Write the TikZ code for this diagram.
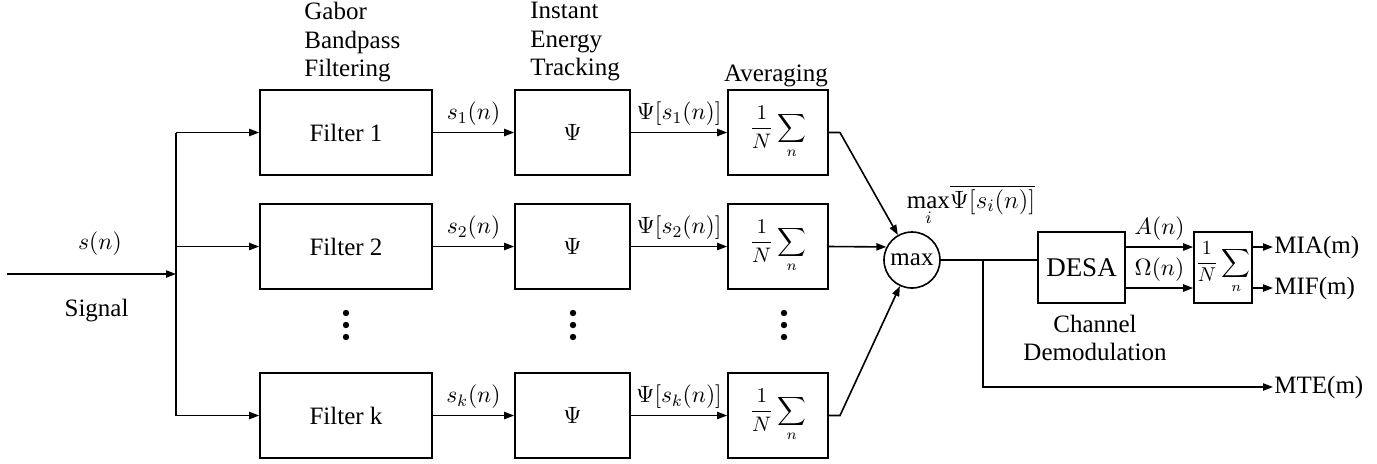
\RequirePackage{fix-cm}
\documentclass[tikz,border=0pt]{standalone}
\usepackage{fontspec}
\setmainfont{Liberation Serif}
\usetikzlibrary{arrows.meta,calc}
\begin{document}
\begin{tikzpicture}[x=0.5pt,y=-0.5pt,
  mfont/.style={font=\rmfamily\fontsize{11.8}{14}\selectfont},
  tfont/.style={font=\rmfamily\fontsize{12.5}{14.3}\selectfont},
  ln/.style={line width=0.8pt},
  blk/.style={draw,ln,inner sep=0pt,minimum height=42.5pt},
  filt/.style={blk,tfont,minimum width=86pt},
  psi/.style={blk,mfont,minimum width=57.5pt},
  avg/.style={blk,font=\rmfamily\fontsize{10.5}{12}\selectfont,minimum width=50pt},
  arr/.style={ln,-{Triangle[length=5pt,width=3.6pt]}},
  lab/.style={mfont,inner sep=1pt},
  txt/.style={tfont,inner sep=0pt}
]
\useasboundingbox (0,0) rectangle (1377,463);

% top labels
\node[txt,align=left,anchor=north west] (tg) at (304,2) {Gabor\\Bandpass\\Filtering};
\node[txt,align=left,anchor=north west] (ti) at (530,2) {Instant\\Energy\\Tracking};
\node[txt,anchor=base] (ta) at (776,81) {Averaging};

% blocks
\node[filt] (f1) at (346,132.5) {Filter 1};
\node[filt] (f2) at (346,246.5) {Filter 2};
\node[filt] (fk) at (346,415.5) {Filter k};
\node[psi] (p1) at (572.5,132.5) {$\Psi$};
\node[psi] (p2) at (572.5,246.5) {$\Psi$};
\node[psi] (pk) at (572.5,415.5) {$\Psi$};
\node[avg] (a1) at (778,132.5) {$\displaystyle\frac{1}{N}\sum_n$};
\node[avg] (a2) at (778,246.5) {$\displaystyle\frac{1}{N}\sum_n$};
\node[avg] (ak) at (778,415.5) {$\displaystyle\frac{1}{N}\sum_n$};

% dots
\foreach \x in {346,573,784}{
  \foreach \y in {313,325,337}{
    \fill (\x,\y) circle (1.6pt);
  }
}

% input
\coordinate (sin) at (7,274);
\coordinate (bus) at (176,274);
\draw[arr] (sin) -- node[lab,above=8pt,pos=0.55] (sn) {$s(n)$} node[txt,below=12pt,pos=0.53] (sg) {Signal} (bus);
\draw[ln] (bus |- f1.west) -- (bus |- fk.west);
\draw[arr] (bus |- f1.west) -- (f1.west);
\draw[arr] (bus |- f2.west) -- (f2.west);
\draw[arr] (bus |- fk.west) -- (fk.west);

% filter -> psi
\draw[arr] (f1) -- node[lab,above=2pt] (l1) {$s_1(n)$} (p1);
\draw[arr] (f2) -- node[lab,above=2pt] (l2) {$s_2(n)$} (p2);
\draw[arr] (fk) -- node[lab,above=2pt] (lk) {$s_k(n)$} (pk);
% psi -> avg
\draw[arr] (p1) -- node[lab,above=2pt] (m1) {$\Psi[s_1(n)]$} (a1);
\draw[arr] (p2) -- node[lab,above=2pt] (m2) {$\Psi[s_2(n)]$} (a2);
\draw[arr] (pk) -- node[lab,above=2pt] (mk) {$\Psi[s_k(n)]$} (ak);

% max
\node[draw,ln,circle,minimum size=28pt,inner sep=0pt,tfont] (mx) at (912,260) {max};
\node[lab,anchor=base,font=\rmfamily\fontsize{12.5}{15}\selectfont] (mxl) at (971,208) {$\max\limits_i\!\overline{\Psi[s_i(n)]}$};
\coordinate (c1) at (840,132.5);
\coordinate (ck) at (840,415.5);
\draw[arr] (a1.east) -- (c1) -- (mx);
\draw[arr] (a2.east) -- (mx.153);
\draw[arr] (ak.east) -- (ck) -- (mx);

% demodulation
\node[blk,minimum width=43.5pt,minimum height=35.5pt,font=\rmfamily\fontsize{13.5}{16}\selectfont] (desa) at (1081.5,267.5) {DESA};
\node[blk,font=\rmfamily\fontsize{10}{12}\selectfont,minimum width=29pt,minimum height=35.5pt] (ab) at (1223,267.5) {$\displaystyle\frac{1}{N}\sum_n$};
\node[txt,align=center] (cd) at (1095,338) {Channel\\Demodulation};
\coordinate (br) at (983,260);
\draw[ln] (mx.east) -- (mx.east -| desa.west);
\node[txt,anchor=west,inner sep=0.5pt] (mia) at (1273,247) {MIA(m)};
\node[txt,anchor=west,inner sep=0.5pt] (mif) at (1273,288) {MIF(m)};
\node[txt,anchor=west,inner sep=0.5pt] (mte) at (1273,387) {MTE(m)};
\draw[arr] (br) -- (br |- mte) -- (mte.west);
\draw[arr] ($(desa.east)+(0,-20.5)$) -- node[lab,above=2pt] (an) {$A(n)$} ($(ab.west)+(0,-20.5)$);
\draw[arr] ($(desa.east)+(0,20.5)$) -- node[lab,above=2pt] (on) {$\Omega(n)$} ($(ab.west)+(0,20.5)$);
\draw[arr] ($(ab.east)+(0,-20.5)$) -- (mia.west);
\draw[arr] ($(ab.east)+(0,20.5)$) -- (mif.west);
\end{tikzpicture}
\end{document}
